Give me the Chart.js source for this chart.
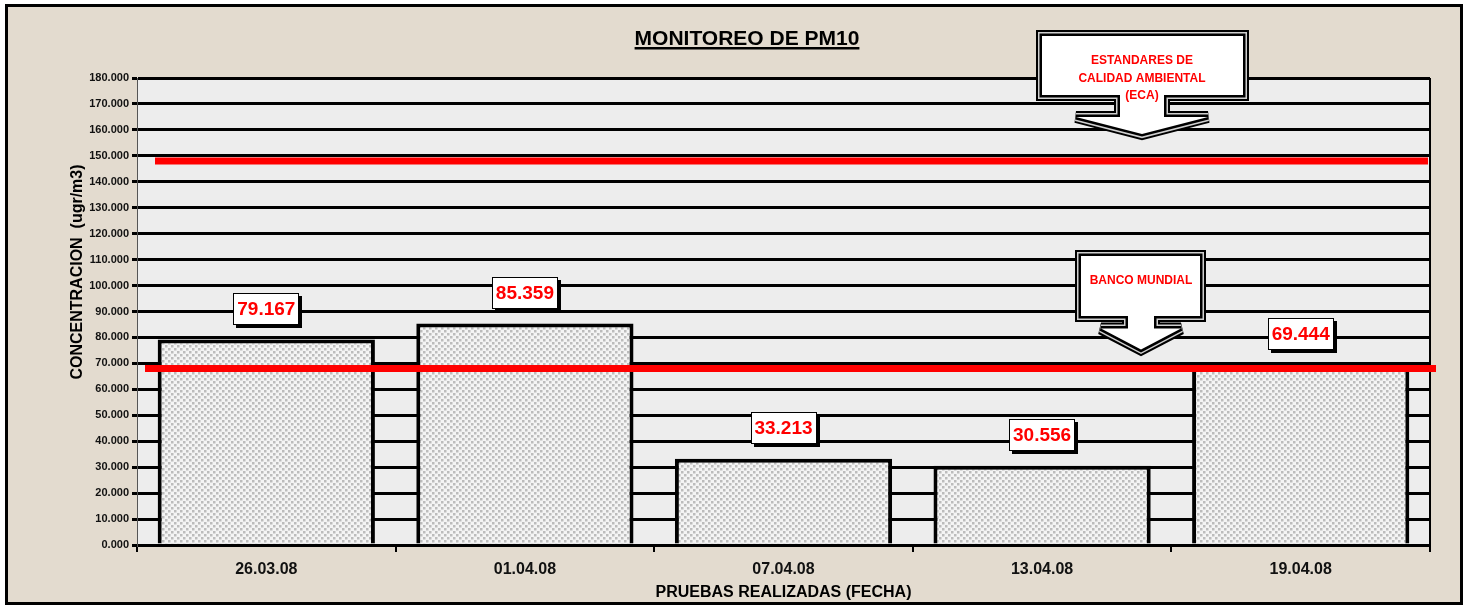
<!DOCTYPE html>
<html>
<head>
<meta charset="utf-8">
<script src="https://cdn.jsdelivr.net/npm/chart.js@4.4.1/dist/chart.umd.min.js"></script>
<style>
  html, body { margin: 0; padding: 0; background: #fff; }
  #wrap { width: 1468px; height: 606px; }
</style>
</head>
<body>
<div id="wrap"><canvas id="pm10Chart" width="1468" height="606"></canvas></div>
<script>
// datos del monitoreo
const fechas = ["26.03.08", "01.04.08", "07.04.08", "13.04.08", "19.04.08"];
const concentraciones = [79.167, 85.359, 33.213, 30.556, 69.444];
const yMax = 180;
const yPaso = 10;
// limites de referencia (lineas rojas)
const limiteECA = 148;
const limiteBM = 68;
const textoECA = ["ESTANDARES DE", "CALIDAD AMBIENTAL", "(ECA)"];
const textoBM = ["BANCO MUNDIAL"];

const FONT = "'Liberation Sans', Arial, sans-serif";

// relleno punteado de las barras
function dotPattern() {
  const c = document.createElement("canvas");
  c.width = 6; c.height = 6;
  const g = c.getContext("2d");
  g.fillStyle = "#f4f4f4";
  g.fillRect(0, 0, 6, 6);
  g.fillStyle = "#bcbcbc";
  g.fillRect(0, 0, 2.5, 2.5);
  g.fillRect(3, 3, 2.5, 2.5);
  return g.createPattern(c, "repeat");
}

// flecha tipo callout con borde triple
function callout(ctx, cx, box, shaftHalf, wingHalf, wingY, tipY, lines, lineYs) {
  ctx.save();
  ctx.beginPath();
  ctx.moveTo(box.l, box.t);
  ctx.lineTo(box.r, box.t);
  ctx.lineTo(box.r, box.b);
  ctx.lineTo(cx + shaftHalf, box.b);
  ctx.lineTo(cx + shaftHalf, wingY);
  ctx.lineTo(cx + wingHalf, wingY);
  ctx.lineTo(cx, tipY);
  ctx.lineTo(cx - wingHalf, wingY);
  ctx.lineTo(cx - shaftHalf, wingY);
  ctx.lineTo(cx - shaftHalf, box.b);
  ctx.lineTo(box.l, box.b);
  ctx.closePath();
  ctx.lineJoin = "miter";
  ctx.miterLimit = 4;
  ctx.strokeStyle = "#000"; ctx.lineWidth = 12; ctx.stroke();
  ctx.strokeStyle = "#d0d0d0"; ctx.lineWidth = 8; ctx.stroke();
  ctx.strokeStyle = "#000"; ctx.lineWidth = 5; ctx.stroke();
  ctx.fillStyle = "#fff"; ctx.fill();
  ctx.fillStyle = "#ff0000";
  ctx.font = "bold 12px " + FONT;
  ctx.textAlign = "center";
  ctx.textBaseline = "middle";
  lines.forEach((t, i) => ctx.fillText(t, cx, lineYs[i]));
  ctx.restore();
}

const decoPlugin = {
  id: "deco",
  beforeDraw(chart) {
    const ctx = chart.ctx;
    const a = chart.chartArea;
    ctx.save();
    ctx.fillStyle = "#ffffff";
    ctx.fillRect(0, 0, chart.width, chart.height);
    ctx.fillStyle = "#e3dbcf";
    ctx.fillRect(7, 6, 1454, 597);
    ctx.strokeStyle = "#000";
    ctx.lineWidth = 3;
    ctx.strokeRect(6.5, 5.5, 1455, 598);
    ctx.fillStyle = "#ededed";
    ctx.fillRect(a.left, a.top, a.right - a.left, a.bottom - a.top);
    ctx.restore();
  },
  afterDatasetsDraw(chart) {
    const ctx = chart.ctx;
    const a = chart.chartArea;
    const y = chart.scales.y;
    ctx.save();

    // borde derecho del area de trazado
    ctx.strokeStyle = "#000";
    ctx.lineWidth = 2;
    ctx.beginPath();
    ctx.moveTo(a.right, a.top);
    ctx.lineTo(a.right, a.bottom);
    ctx.stroke();

    // lineas de limites
    ctx.strokeStyle = "#ff0000";
    ctx.lineWidth = 7;
    const yE = y.getPixelForValue(limiteECA);
    ctx.beginPath(); ctx.moveTo(a.left + 18, yE); ctx.lineTo(a.right - 2, yE); ctx.stroke();
    const yB = y.getPixelForValue(limiteBM);
    ctx.beginPath(); ctx.moveTo(a.left + 8, yB); ctx.lineTo(a.right + 6, yB); ctx.stroke();

    // etiquetas de valores
    const meta = chart.getDatasetMeta(0);
    ctx.font = "bold 19px " + FONT;
    ctx.textAlign = "center";
    ctx.textBaseline = "middle";
    meta.data.forEach((bar, i) => {
      const txt = concentraciones[i].toFixed(3);
      const w = 66, h = 32;
      const bx = Math.round(bar.x - w / 2);
      const by = Math.round(bar.y - 15 - h);
      ctx.fillStyle = "#000";
      ctx.fillRect(bx + 3, by + 3, w, h);
      ctx.fillStyle = "#fff";
      ctx.fillRect(bx, by, w, h);
      ctx.strokeStyle = "#000";
      ctx.lineWidth = 1;
      ctx.strokeRect(bx + 0.5, by + 0.5, w - 1, h - 1);
      ctx.fillStyle = "#ff0000";
      ctx.fillText(txt, bar.x, by + h / 2 + 1);
    });

    // callouts
    callout(ctx, 1142, { l: 1042, r: 1243, t: 36, b: 95 }, 22, 66, yE - 44, yE - 27,
      textoECA, [61, 79, 96]);
    callout(ctx, 1141, { l: 1081, r: 1200, t: 256, b: 316 }, 13, 40, yB - 40, yB - 19,
      textoBM, [281]);

    // titulo
    ctx.fillStyle = "#000";
    ctx.font = "bold 21px " + FONT;
    ctx.textAlign = "center";
    ctx.textBaseline = "alphabetic";
    const tx = 747;
    ctx.fillText("MONITOREO DE PM10", tx, 45);
    const tw = ctx.measureText("MONITOREO DE PM10").width;
    ctx.fillRect(tx - tw / 2, 47, tw, 2.5);

    // titulo eje Y
    ctx.translate(78, 272);
    ctx.rotate(-Math.PI / 2);
    ctx.font = "bold 16px " + FONT;
    ctx.textBaseline = "middle";
    ctx.fillText("CONCENTRACION  (ugr/m3)", 0, 0);
    ctx.restore();
  }
};

new Chart(document.getElementById("pm10Chart"), {
  type: "bar",
  data: {
    labels: fechas,
    datasets: [{
      label: "PM10",
      data: concentraciones,
      backgroundColor: dotPattern(),
      borderColor: "#000",
      borderWidth: 4,
      borderSkipped: "bottom",
      barPercentage: 0.84,
      categoryPercentage: 1.0
    }]
  },
  options: {
    responsive: false,
    animation: false,
    layout: { padding: { left: 0, right: 38, top: 78, bottom: 0 } },
    plugins: {
      legend: { display: false },
      tooltip: { enabled: false }
    },
    scales: {
      x: {
        afterFit(s) { s.height = 61; },
        grid: { display: true, drawOnChartArea: false, drawTicks: true, tickLength: 7, color: "#000", lineWidth: 2, offset: true },
        border: { display: true, color: "#000", width: 3 },
        ticks: { color: "#111", font: { family: FONT, size: 16, weight: "bold" }, padding: 8 },
        title: {
          display: true,
          text: "PRUEBAS REALIZADAS (FECHA)",
          color: "#000",
          font: { family: FONT, size: 16, weight: "bold" },
          padding: { top: 0, bottom: 4 }
        }
      },
      y: {
        min: 0,
        max: yMax,
        afterFit(s) { s.width = 137; },
        grid: { color: "#000", lineWidth: 3, tickLength: 5, drawTicks: true },
        border: { display: true, color: "#555", width: 1 },
        ticks: {
          stepSize: yPaso,
          color: "#111",
          padding: 3,
          font: { family: FONT, size: 11, weight: "bold" },
          callback: (v) => Number(v).toFixed(3)
        }
      }
    }
  },
  plugins: [decoPlugin]
});
</script>
</body>
</html>
